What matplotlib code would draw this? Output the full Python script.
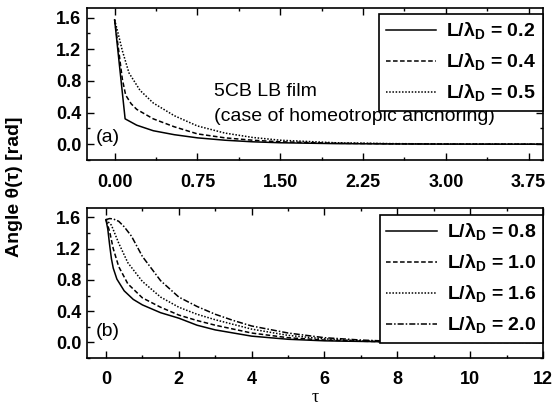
import numpy as np
import matplotlib
matplotlib.use('Agg')
import matplotlib.pyplot as plt
from matplotlib.ticker import MultipleLocator, FormatStrFormatter

plt.rcParams['font.family'] = ['Liberation Sans', 'DejaVu Sans']
plt.rcParams['mathtext.fontset'] = 'custom'
plt.rcParams['mathtext.rm'] = 'Liberation Sans'
plt.rcParams['mathtext.bf'] = 'Liberation Sans:bold'

# panel (a): homeotropic anchoring, L/lambda_D = 0.2, 0.4, 0.5
tau_a_02 = [0.0, 0.095, 0.2, 0.35, 0.54, 0.75, 1.0, 1.25, 1.5, 2.0, 2.5, 3.0, 3.9]
theta_a_02 = [1.571, 0.32, 0.24, 0.17, 0.12, 0.08, 0.05, 0.03, 0.018, 0.007, 0.003, 0.001, 0.0]
tau_a_04 = [0.0, 0.04, 0.07, 0.1, 0.15, 0.2, 0.35, 0.54, 0.75, 1.0, 1.25, 1.5, 2.0, 2.5, 3.0, 3.9]
theta_a_04 = [1.571, 1.15, 0.82, 0.62, 0.51, 0.44, 0.32, 0.22, 0.13, 0.08, 0.05, 0.03, 0.012, 0.005, 0.002, 0.0]
tau_a_05 = [0.0, 0.035, 0.07, 0.13, 0.23, 0.35, 0.54, 0.75, 1.0, 1.25, 1.5, 2.0, 2.5, 3.0, 3.9]
theta_a_05 = [1.571, 1.38, 1.18, 0.9, 0.68, 0.52, 0.36, 0.23, 0.14, 0.085, 0.05, 0.018, 0.007, 0.003, 0.0]

# panel (b): L/lambda_D = 0.8, 1.0, 1.6, 2.0
tau_b_08 = [0.0, 0.05, 0.1, 0.15, 0.2, 0.3, 0.5, 0.75, 1.0, 1.5, 2.0, 2.5, 3.0, 4.0, 5.0, 6.0, 8.0, 10.0, 12.0]
theta_b_08 = [1.571, 1.45, 1.25, 1.07, 0.95, 0.81, 0.66, 0.55, 0.48, 0.38, 0.31, 0.22, 0.16, 0.08, 0.04, 0.02, 0.005, 0.001, 0.0]
tau_b_10 = [0.0, 0.1, 0.2, 0.35, 0.6, 1.0, 1.5, 2.0, 2.5, 3.0, 4.0, 5.0, 6.0, 7.0, 8.0, 10.0, 12.0]
theta_b_10 = [1.571, 1.42, 1.2, 0.97, 0.75, 0.57, 0.45, 0.35, 0.28, 0.22, 0.12, 0.06, 0.03, 0.015, 0.005, 0.001, 0.0]
tau_b_16 = [0.0, 0.15, 0.35, 0.6, 1.0, 1.5, 2.0, 2.5, 3.0, 4.0, 5.0, 6.0, 7.0, 8.0, 10.0, 12.0]
theta_b_16 = [1.571, 1.5, 1.27, 1.02, 0.78, 0.58, 0.45, 0.36, 0.29, 0.17, 0.09, 0.045, 0.02, 0.008, 0.002, 0.0]
tau_b_20 = [0.0, 0.1, 0.2, 0.35, 0.5, 0.7, 1.0, 1.5, 2.0, 2.5, 3.0, 3.5, 4.0, 5.0, 6.0, 7.0, 8.0, 10.0, 12.0]
theta_b_20 = [1.571, 1.585, 1.58, 1.55, 1.48, 1.36, 1.1, 0.79, 0.58, 0.46, 0.36, 0.28, 0.21, 0.12, 0.06, 0.03, 0.012, 0.003, 0.0]

labels_a = [r'L/λ$_\mathbf{D}$ = 0.2', r'L/λ$_\mathbf{D}$ = 0.4', r'L/λ$_\mathbf{D}$ = 0.5']
labels_b = [r'L/λ$_\mathbf{D}$ = 0.8', r'L/λ$_\mathbf{D}$ = 1.0',
            r'L/λ$_\mathbf{D}$ = 1.6', r'L/λ$_\mathbf{D}$ = 2.0']

styles = ['-', (0, (3, 1.6)), (0, (1, 1.1)), (0, (4, 1.3, 1, 1.3))]
fs_tick = 13
fs_text = 14

fig = plt.figure(figsize=(5.55, 4.05), dpi=100)
ax_a = fig.add_axes([0.1568, 0.6049, 0.8216, 0.3753])
ax_b = fig.add_axes([0.1568, 0.1160, 0.8216, 0.3704])

ax_a.plot(tau_a_02, theta_a_02, color='black', ls=styles[0], lw=1.1, label=labels_a[0])
ax_a.plot(tau_a_04, theta_a_04, color='black', ls=styles[1], lw=1.1, label=labels_a[1])
ax_a.plot(tau_a_05, theta_a_05, color='black', ls=styles[2], lw=1.1, label=labels_a[2])

ax_b.plot(tau_b_08, theta_b_08, color='black', ls=styles[0], lw=1.1, label=labels_b[0])
ax_b.plot(tau_b_10, theta_b_10, color='black', ls=styles[1], lw=1.1, label=labels_b[1])
ax_b.plot(tau_b_16, theta_b_16, color='black', ls=styles[2], lw=1.1, label=labels_b[2])
ax_b.plot(tau_b_20, theta_b_20, color='black', ls=styles[3], lw=1.1, label=labels_b[3])

ax_a.set_xlim(-0.25, 3.88)
ax_b.set_xlim(-0.52, 12)
ax_a.xaxis.set_major_locator(MultipleLocator(0.75))
ax_a.xaxis.set_minor_locator(MultipleLocator(0.375))
ax_a.xaxis.set_major_formatter(FormatStrFormatter('%.2f'))
ax_b.xaxis.set_major_locator(MultipleLocator(2))
ax_b.xaxis.set_minor_locator(MultipleLocator(1))

for ax in (ax_a, ax_b):
    ax.set_ylim(-0.2, 1.72)
    ax.yaxis.set_major_locator(MultipleLocator(0.4))
    ax.yaxis.set_minor_locator(MultipleLocator(0.2))
    ax.yaxis.set_major_formatter(FormatStrFormatter('%.1f'))
    ax.tick_params(which='both', direction='in', top=True, right=True, width=1.0)
    ax.tick_params(which='major', length=5, labelsize=fs_tick)
    ax.tick_params(which='minor', length=2.5)
    ax.tick_params(axis='y', which='major', pad=4)
    for lab in ax.get_xticklabels() + ax.get_yticklabels():
        lab.set_fontweight('bold')
    for sp in ax.spines.values():
        sp.set_linewidth(1.2)
ax_a.tick_params(axis='x', which='major', pad=10)
ax_b.tick_params(axis='x', which='major', pad=9)

leg_kw = dict(loc='upper right', borderaxespad=0, fancybox=False, framealpha=1,
              edgecolor='black', handlelength=2.6, handletextpad=0.5,
              borderpad=0.35, labelspacing=0.5,
              prop={'size': fs_text, 'weight': 'bold'})
leg_a = ax_a.legend(bbox_to_anchor=(1.0, 0.96), **leg_kw)
leg_b = ax_b.legend(bbox_to_anchor=(1.0, 0.955), **leg_kw)
for leg in (leg_a, leg_b):
    leg.get_frame().set_linewidth(1.2)

ax_a.text(0.9, 0.66, '5CB LB film', fontsize=fs_text, ha='left', va='center')
ax_a.text(0.9, 0.35, '(case of homeotropic anchoring)', fontsize=fs_text, ha='left', va='center')
ax_a.text(-0.17, 0.08, '(a)', fontsize=fs_text, ha='left', va='center')
ax_b.text(-0.27, 0.14, '(b)', fontsize=fs_text, ha='left', va='center')

fig.text(0.027, 0.54, 'Angle θ(τ) [rad]', rotation=90, ha='center', va='center',
         fontsize=14, fontweight='bold')
ax_b.set_xlabel('τ', fontsize=13, family=['Liberation Serif', 'DejaVu Serif'], labelpad=1)

fig.savefig('out.png', dpi=100)
